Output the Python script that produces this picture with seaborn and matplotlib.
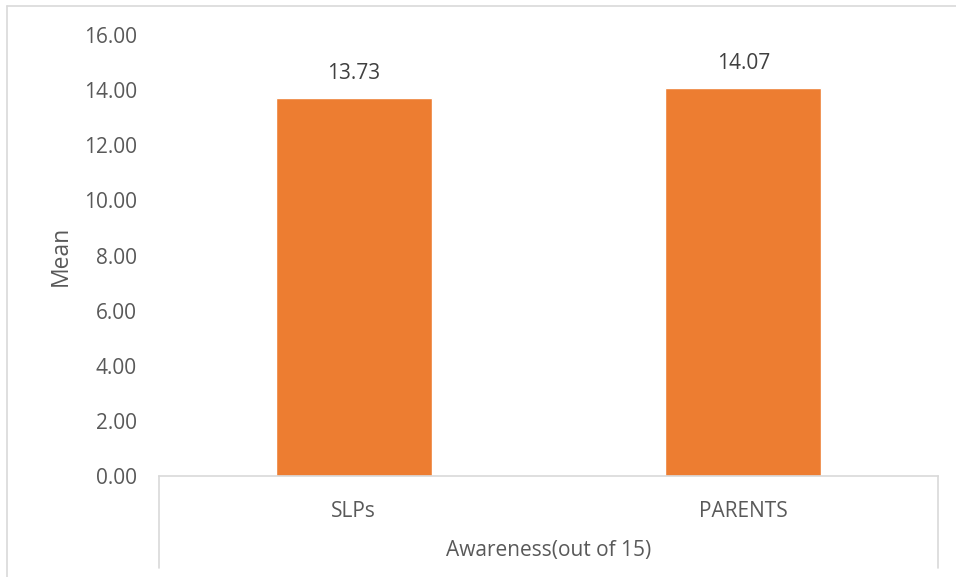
import matplotlib
matplotlib.use("Agg")
import matplotlib.pyplot as plt
import seaborn as sns
from matplotlib.lines import Line2D

# data
groups = ["SLPs", "PARENTS"]
means = [13.73, 14.07]
y_ticks = [0, 2, 4, 6, 8, 10, 12, 14, 16]
x_title = "Awareness(out of 15)"
y_title = "Mean"

sns.set_style("white")
plt.rcParams["font.family"] = ["Open Sans", "DejaVu Sans"]
txt = "#595959"
grid_c = "#D9D9D9"

fig = plt.figure(figsize=(9.56, 5.77), dpi=100)
W, H = 956, 577
ax = fig.add_axes([159 / W, 1 - 476 / H, (938 - 159) / W, (476 - 35) / H])

sns.barplot(x=groups, y=means, color="#ED7D31", width=0.4, saturation=1, ax=ax)
for c in ax.containers:
    ax.bar_label(c, fmt="%.2f", padding=10, fontsize=15, color="#404040")

ax.set_ylim(0, 16)
ax.set_yticks(y_ticks)
ax.set_yticklabels([f"{v:.2f}" for v in y_ticks])
ax.set_xlim(-0.5, 1.5)
ax.tick_params(axis="both", length=0, labelsize=15, labelcolor=txt)
ax.tick_params(axis="y", pad=16)
ax.tick_params(axis="x", pad=18)

for s in ["top", "right", "left"]:
    ax.spines[s].set_visible(False)
ax.spines["bottom"].set_color(grid_c)
ax.spines["bottom"].set_linewidth(1.2)

# category box lines under the axis
low = (476 - 568) / (476 - 35)
for xx in [0, 1]:
    ax.plot([xx, xx], [0, low], transform=ax.transAxes, color=grid_c, lw=1.2, clip_on=False)

ax.set_xlabel(x_title, fontsize=15, color=txt, labelpad=13)
ax.set_ylabel(y_title, fontsize=16.5, color=txt, labelpad=8)

# chart area border (Excel style)
fig.add_artist(Line2D([7 / W, 1], [1 - 6 / H, 1 - 6 / H], color=grid_c, lw=1.2))
fig.add_artist(Line2D([7 / W, 7 / W], [0, 1 - 6 / H], color=grid_c, lw=1.2))

fig.savefig("out.png", dpi=100)
